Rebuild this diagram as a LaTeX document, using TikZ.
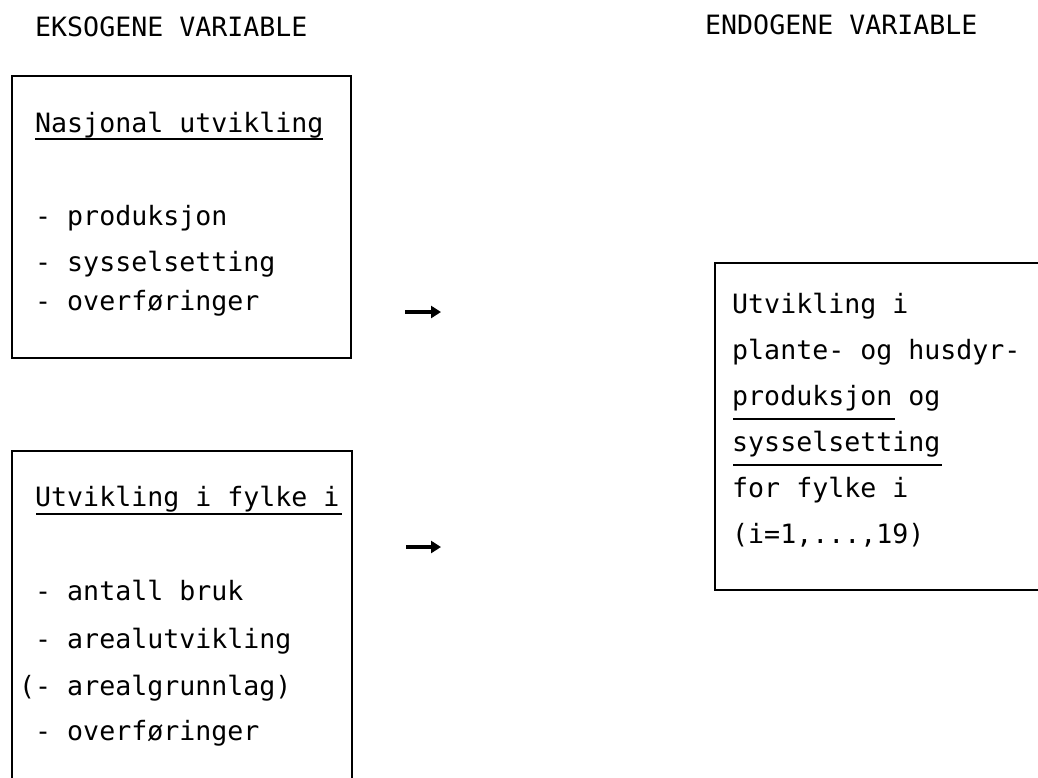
\documentclass[tikz,border=0pt]{standalone}
\usepackage{fontspec}
\newfontfamily\tw{DejaVu Sans Mono}
\usetikzlibrary{arrows.meta}
\begin{document}
\begin{tikzpicture}[x=1pt,y=-1pt,
  txt/.style={anchor=base west, inner sep=0pt, font=\tw\fontsize{26.6}{30}\selectfont},
  frame/.style={draw, line width=2.3pt, rectangle, inner sep=0pt},
  uline/.style={line width=1.6pt},
  arr/.style={line width=3.4pt, -{Triangle[length=10pt,width=12pt]}}]
\useasboundingbox (0,0) rectangle (1038,777);
\clip (0,0) rectangle (1038,777);
\fill[white] (0,0) rectangle (1038,777);
% headers
\node[txt] (h1) at (35,36) {EKSOGENE VARIABLE};
\node[txt] (h2) at (705,34) {ENDOGENE VARIABLE};
% frames
\node[frame, minimum width=339pt, minimum height=282pt] (box1) at (181.5,217) {};
\node[frame, minimum width=340pt, minimum height=349pt] (box2) at (182,625.5) {};
\node[frame, minimum width=345pt, minimum height=327pt] (box3) at (887.5,426.5) {};
% box 1 text
\node[txt] (t1) at (35,132) {Nasjonal utvikling};
\node[txt] (p1) at (35,225) {- produksjon};
\node[txt] (p2) at (35,271) {- sysselsetting};
\node[txt] (p3) at (35,310) {- overføringer};
% box 2 text
\node[txt] (t2) at (35,506) {Utvikling i fylke i};
\node[txt] (q1) at (35,600) {- antall bruk};
\node[txt] (q2) at (35,648) {- arealutvikling};
\node[txt] (q3) at (19,695) {(- arealgrunnlag)};
\node[txt] (q4) at (35,740) {- overføringer};
% right box text
\node[txt] (r1) at (732,313) {Utvikling i};
\node[txt] (r2) at (732,359) {plante- og husdyr-};
\node[txt] (r3) at (732,405) {produksjon og};
\node[txt] (r4) at (732,451) {sysselsetting};
\node[txt] (r5) at (732,497) {for fylke i};
\node[txt] (r6) at (732,543) {(i=1,...,19)};
% underlines
\draw[uline] (35,139) -- (323,139);
\draw[uline] (36,514) -- (342,514);
\draw[uline] (733,419) -- (895,419);
\draw[uline] (733,465) -- (942,465);
% arrows
\coordinate (a1s) at (405,312);
\coordinate (a1e) at (441,312);
\coordinate (a2s) at (406,547);
\coordinate (a2e) at (441,547);
\draw[arr] (a1s) -- (a1e);
\draw[arr] (a2s) -- (a2e);
\end{tikzpicture}
\end{document}
